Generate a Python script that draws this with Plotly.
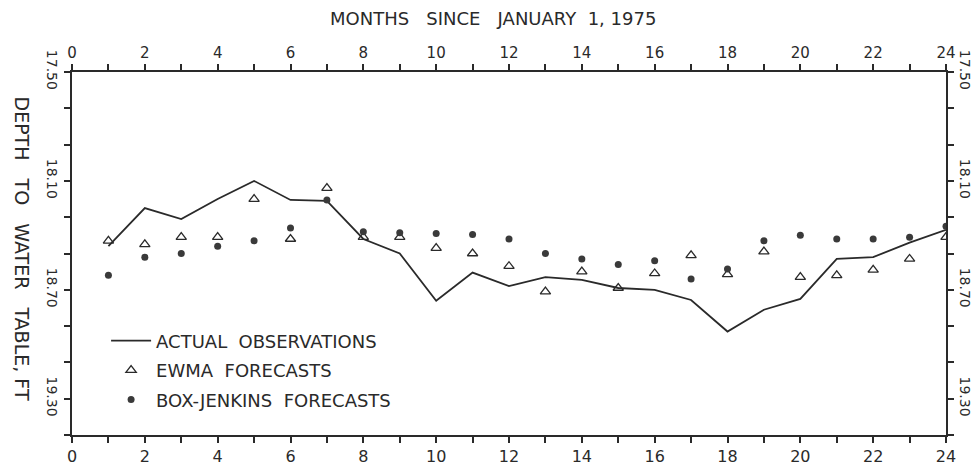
import plotly.graph_objects as go

months = list(range(1, 25))
actual = [18.46, 18.25, 18.31, 18.20, 18.10, 18.205, 18.21, 18.42, 18.50, 18.76,
          18.605, 18.68, 18.63, 18.645, 18.69, 18.70, 18.756, 18.93, 18.81, 18.75,
          18.53, 18.52, 18.44, 18.37]
ewma = [18.43, 18.45, 18.41, 18.41, 18.20, 18.42, 18.14, 18.41, 18.41, 18.47,
        18.50, 18.57, 18.71, 18.60, 18.69, 18.61, 18.51, 18.615, 18.49, 18.63,
        18.62, 18.59, 18.53, 18.41]
box_jenkins = [18.62, 18.52, 18.50, 18.46, 18.43, 18.36, 18.205, 18.38, 18.385, 18.39,
               18.395, 18.42, 18.50, 18.53, 18.56, 18.54, 18.64, 18.585, 18.43, 18.40,
               18.42, 18.42, 18.41, 18.35]

x_ticks = list(range(0, 25))
x_labels = [str(v) if v % 2 == 0 else "" for v in x_ticks]
y_ticks = [17.5 + 0.2 * i for i in range(11)]
y_label_vals = {17.5: "17.50", 18.1: "18.10", 18.7: "18.70", 19.3: "19.30"}
y_labels = []
for v in y_ticks:
    lab = ""
    for k, t in y_label_vals.items():
        if abs(v - k) < 1e-6:
            lab = t
    y_labels.append(lab)

INK = "#2a2a2a"
FONT = "DejaVu Sans"

fig = go.Figure()
fig.add_trace(go.Scatter(x=months, y=actual, mode="lines", name="ACTUAL  OBSERVATIONS",
                         line=dict(color=INK, width=1.8), legendgroup="a"))
fig.add_trace(go.Scatter(x=months, y=ewma, mode="markers", name="EWMA  FORECASTS",
                         marker=dict(symbol="triangle-up-open", size=9, color=INK,
                                     line=dict(width=1.3, color=INK)), legendgroup="b"))
fig.add_trace(go.Scatter(x=months, y=box_jenkins, mode="markers", name="BOX-JENKINS  FORECASTS",
                         marker=dict(symbol="circle", size=7, color="#3a3a3a"), legendgroup="c"))
fig.add_trace(go.Scatter(x=[None], y=[None], xaxis="x2", yaxis="y2", showlegend=False,
                         hoverinfo="skip"))

axis_common = dict(showgrid=False, zeroline=False, showline=True, linecolor=INK,
                   linewidth=2, ticks="outside", ticklen=6, tickwidth=1.5,
                   tickcolor=INK, mirror=False, automargin=False)

fig.update_layout(
    width=974, height=470,
    margin=dict(l=72, r=28, t=72, b=35),
    paper_bgcolor="white", plot_bgcolor="white",
    font=dict(family=FONT, color=INK, size=16),
    xaxis=dict(range=[0, 24], tickvals=x_ticks, ticktext=x_labels,
               tickfont=dict(size=16), **axis_common),
    xaxis2=dict(range=[0, 24], tickvals=x_ticks, ticktext=x_labels, overlaying="x",
                side="top", anchor="y", tickfont=dict(size=15), **axis_common),
    yaxis=dict(range=[19.5, 17.5], tickvals=y_ticks, ticktext=y_labels, tickangle=90,
               tickfont=dict(size=14), **axis_common),
    yaxis2=dict(range=[19.5, 17.5], tickvals=y_ticks, ticktext=y_labels, tickangle=90,
                overlaying="y", side="right", anchor="x", tickfont=dict(size=14),
                **axis_common),
    legend=dict(x=0.039, y=0.31, xanchor="left", yanchor="top", bgcolor="rgba(0,0,0,0)",
                font=dict(size=18, family=FONT, color=INK), itemwidth=40,
                traceorder="grouped", tracegroupgap=3),
    showlegend=True,
    annotations=[
        dict(text="MONTHS   SINCE   JANUARY  1, 1975", xref="paper", yref="paper",
             x=0.5, y=1, xshift=-16, yshift=54, xanchor="center", yanchor="middle",
             showarrow=False, font=dict(size=18)),
        dict(text="DEPTH   TO   WATER   TABLE, FT", xref="paper", yref="paper",
             x=0, y=0.5, xshift=-50, yshift=5, xanchor="center", yanchor="middle",
             textangle=90, showarrow=False, font=dict(size=19)),
    ],
)

fig.write_html("out.html", config={"displayModeBar": False},
               post_script="document.body.style.margin='0';")
